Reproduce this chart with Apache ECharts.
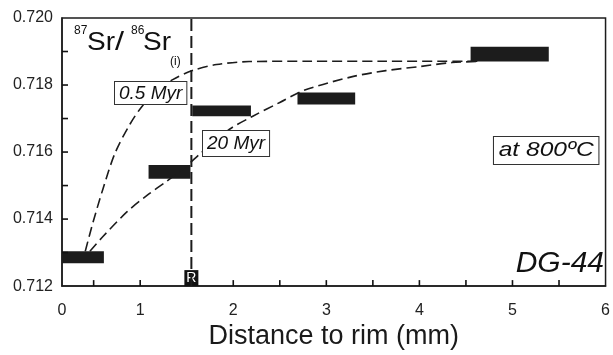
<!DOCTYPE html>
<html><head><meta charset="utf-8">
<script src="https://cdn.jsdelivr.net/npm/echarts@6/dist/echarts.min.js"></script>
<style>html,body{margin:0;padding:0;background:#fff}#c{width:613px;height:355px}</style>
</head><body><div id="c"></div>
<script>
// ---- axes ----
const xMin = 0.16, xMax = 6;
const yMin = 0.712, yMax = 0.720;
const xTickValues = [0.5, 1, 1.5, 2, 2.5, 3, 3.5, 4, 4.5, 5, 5.5];
const xLabelValues = [xMin, 1, 2, 3, 4, 5, 6];
const xLabelTexts = ['0', '1', '2', '3', '4', '5', '6'];
const yTickValues = [0.713, 0.714, 0.715, 0.716, 0.717, 0.718, 0.719];
const yLabelValues = [0.712, 0.714, 0.716, 0.718, 0.720];
const yLabelTexts = ['0.712', '0.714', '0.716', '0.718', '0.720'];
const xAxisTitle = 'Distance to rim (mm)';

// ---- measured 87Sr/86Sr(i) analyses (distance range, ratio range) ----
const barXStart = [0.16, 1.09, 1.56, 2.69, 4.55];
const barXEnd   = [0.61, 1.54, 2.19, 3.31, 5.39];
const barYLow   = [0.71268, 0.71520, 0.71707, 0.71742, 0.71870];
const barYHigh  = [0.71304, 0.71561, 0.71739, 0.71778, 0.71914];

// ---- rim position ----
const rimX = 1.55;
const rimLabel = 'R';

// ---- diffusion model curves ----
const curve05X = [0.41, 0.49, 0.60, 0.73, 0.89, 1.03, 1.19, 1.35, 1.56, 1.82, 2.17, 2.82, 3.60, 4.53, 4.64];
const curve05Y = [0.71304, 0.71387, 0.71490, 0.71597, 0.71683, 0.71740, 0.71785, 0.71816, 0.71843, 0.71861, 0.71870, 0.71871, 0.71871, 0.71871, 0.71871];
const curve20X = [0.46, 0.60, 0.86, 1.07, 1.29, 1.50, 1.64, 1.96, 2.21, 2.50, 2.76, 3.28, 3.64, 4.00, 4.35, 4.61];
const curve20Y = [0.71304, 0.71348, 0.71422, 0.71470, 0.71514, 0.71559, 0.71594, 0.71668, 0.71707, 0.71748, 0.71784, 0.71825, 0.71843, 0.71855, 0.71867, 0.71870];

// ---- annotation texts ----
const label05 = '0.5 Myr';
const label20 = '20 Myr';
const labelTemp = 'at 800ºC';
const labelSample = 'DG-44';

const barRows = barXStart.map((v, i) => [v, barXEnd[i], barYLow[i], barYHigh[i]]);
const tickRows = xTickValues.map(v => [v, yMin, 0]).concat(yTickValues.map(v => [xMin, v, 1]));
const zip = (a, b) => a.map((v, i) => [v, b[i]]);
const ink = '#1c1c1c';
const FONT = '"Liberation Sans", Arial, sans-serif';

const chart = echarts.init(document.getElementById('c'));
const dashCurve = { color: ink, width: 1.6, type: [10, 5] };

chart.setOption({
  animation: false,
  backgroundColor: '#fff',
  grid: { left: 62, right: 6, top: 18, bottom: 67, show: true, borderColor: ink, borderWidth: 1.5 },
  xAxis: {
    type: 'value', min: xMin, max: xMax,
    axisLine: { onZero: false, lineStyle: { color: ink, width: 1.5 } },
    axisTick: { show: false },
    axisLabel: {
      customValues: xLabelValues, margin: 16, color: '#222', fontSize: 16, fontFamily: FONT,
      formatter: v => { const i = xLabelValues.findIndex(t => Math.abs(t - v) < 1e-6); return i >= 0 ? xLabelTexts[i] : ''; }
    },
    splitLine: { show: false },
    name: xAxisTitle, nameLocation: 'middle', nameGap: 35,
    nameTextStyle: { fontSize: 27, color: '#1a1a1a', fontFamily: FONT }
  },
  yAxis: {
    type: 'value', min: yMin, max: yMax,
    axisLine: { onZero: false, lineStyle: { color: ink, width: 1.5 } },
    axisTick: { show: false },
    axisLabel: {
      customValues: yLabelValues, margin: 9, color: '#222', fontSize: 16, fontFamily: FONT,
      formatter: v => { const i = yLabelValues.findIndex(t => Math.abs(t - v) < 1e-7); return i >= 0 ? yLabelTexts[i] : ''; }
    },
    splitLine: { show: false }
  },
  series: [
    { type: 'line', data: zip(curve05X, curve05Y), symbol: 'none', smooth: 0.3, lineStyle: dashCurve },
    { type: 'line', data: zip(curve20X, curve20Y), symbol: 'none', smooth: 0.3, lineStyle: dashCurve },
    { type: 'line', data: [[rimX, yMin], [rimX, yMax]], symbol: 'none', lineStyle: { color: ink, width: 2, type: [12, 5] } },
    {
      type: 'custom', data: barRows, encode: { x: [0, 1], y: [2, 3] },
      renderItem: (params, api) => {
        const p0 = api.coord([api.value(0), api.value(3)]);
        const p1 = api.coord([api.value(1), api.value(2)]);
        return { type: 'rect', shape: { x: p0[0], y: p0[1], width: p1[0] - p0[0], height: p1[1] - p0[1] }, style: { fill: ink } };
      }
    },
    {
      // inward axis ticks, placed by the axis scales
      type: 'custom', data: tickRows, encode: { x: 0, y: 1 }, clip: false, silent: true,
      renderItem: (params, api) => {
        const p = api.coord([api.value(0), api.value(1)]);
        const vertical = api.value(2) === 0;
        return {
          type: 'line',
          shape: vertical ? { x1: p[0], y1: p[1], x2: p[0], y2: p[1] - 6 } : { x1: p[0], y1: p[1], x2: p[0] + 6, y2: p[1] },
          style: { stroke: '#111', lineWidth: 1.6 }
        };
      }
    },
    {
      type: 'custom', data: [[rimX, yMin]], encode: { x: 0, y: 1 },
      renderItem: (params, api) => {
        const p = api.coord([api.value(0), api.value(1)]);
        return {
          type: 'group', children: [
            { type: 'rect', shape: { x: p[0] - 7, y: p[1] - 16, width: 14, height: 16 }, style: { fill: '#111' } },
            { type: 'text', style: { x: p[0], y: p[1] - 8, text: rimLabel, fill: '#fff', font: '14px ' + FONT, align: 'center', verticalAlign: 'middle' } }
          ]
        };
      }
    }
  ],
  graphic: [
    { type: 'text', z: 100, left: 114, top: 81, style: { text: label05, font: 'italic 19px ' + FONT, fill: '#111', backgroundColor: '#fff', borderColor: '#333', borderWidth: 1, padding: [2, 4, 1, 4] } },
    { type: 'text', z: 100, left: 202, top: 130, style: { text: label20, font: 'italic 19px ' + FONT, fill: '#111', backgroundColor: '#fff', borderColor: '#333', borderWidth: 1, padding: [3, 4, 3, 4] } },
    { type: 'text', z: 100, x: 494, y: 137, scaleX: 1.17, style: { text: labelTemp, font: 'italic 21px ' + FONT, fill: '#111', backgroundColor: '#fff', borderColor: '#333', borderWidth: 0.9, padding: [3, 4, 3, 4] } },
    { type: 'text', z: 100, right: 9, top: 249, style: { text: labelSample, font: 'italic 30px ' + FONT, fill: '#111' } },
    { type: 'text', z: 100, left: 74, top: 25, style: { text: '87', font: '12px ' + FONT, fill: '#111' } },
    { type: 'text', z: 100, x: 87, y: 31, scaleX: 1.12, style: { text: 'Sr', font: '25px ' + FONT, fill: '#111' } },
    { type: 'text', z: 100, x: 115, y: 30, scaleX: 1.25, style: { text: '/', font: '26px ' + FONT, fill: '#111' } },
    { type: 'text', z: 100, left: 131, top: 25, style: { text: '86', font: '12px ' + FONT, fill: '#111' } },
    { type: 'text', z: 100, x: 143, y: 31, scaleX: 1.12, style: { text: 'Sr', font: '25px ' + FONT, fill: '#111' } },
    { type: 'text', z: 100, left: 170, top: 56, style: { text: '(i)', font: '12px ' + FONT, fill: '#111' } }
  ]
});
</script>
</body></html>
